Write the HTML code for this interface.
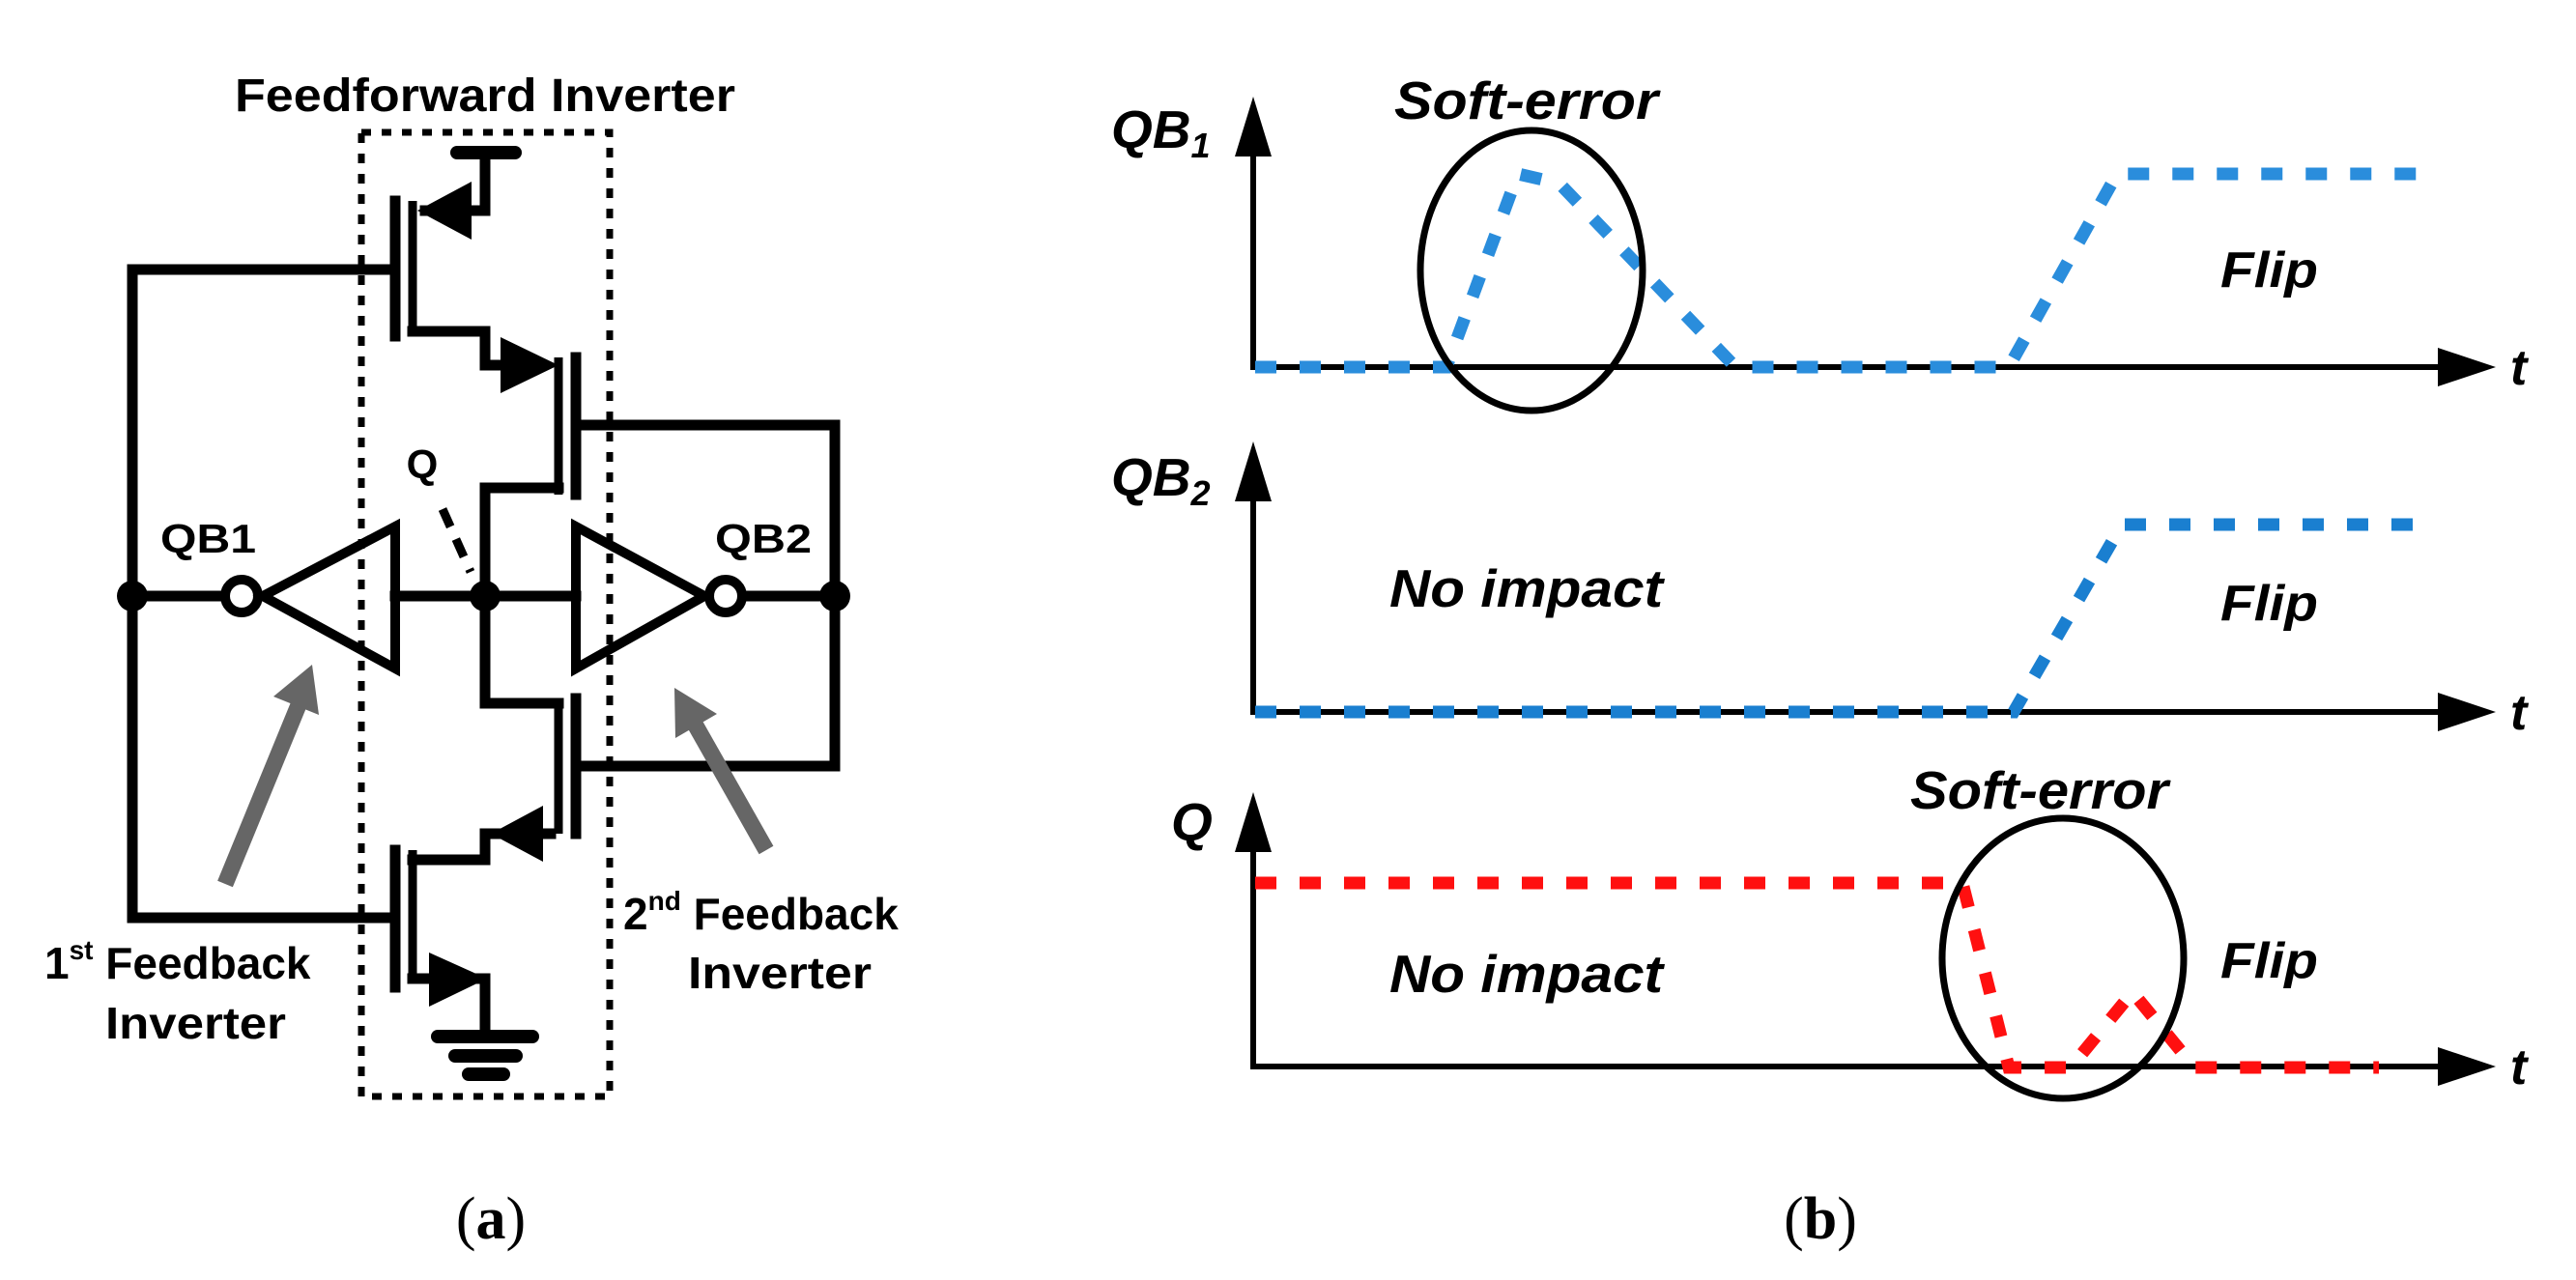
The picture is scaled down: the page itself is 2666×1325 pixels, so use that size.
<!DOCTYPE html>
<html><head><meta charset="utf-8"><style>
html,body{margin:0;padding:0;background:#fff;}
svg{display:block;}
</style></head><body>
<svg width="2666" height="1325" viewBox="0 0 2666 1325" xmlns="http://www.w3.org/2000/svg">
<rect width="2666" height="1325" fill="#fff"/>
<!-- ===== (a) circuit ===== -->
<g font-family="Liberation Sans, Arial, sans-serif" font-weight="bold" fill="#000">
<text x="243" y="115" font-size="48" textLength="518" lengthAdjust="spacingAndGlyphs">Feedforward Inverter</text>
</g>
<rect x="374" y="137" width="257" height="998" fill="none" stroke="#000" stroke-width="7" stroke-dasharray="10 11"/>
<g fill="none" stroke="#000" stroke-width="11" stroke-linejoin="miter" stroke-linecap="square">
  <path d="M137,279 V950"/>
  <path d="M137,279 H409"/>
  <path d="M137,950 H409"/>
  <path d="M409,208 V348"/>
  <path d="M409,880 V1022"/>
  <path d="M596,370 V512"/>
  <path d="M596,723 V863"/>
  <path d="M596,440 H864 V793 H596"/>
  <path d="M502,160 V218 H440"/>
  <path d="M427,343 H502 V378 H560"/>
  <path d="M578,505 H502 V728 H578"/>
  <path d="M570,863 H502 V890 H427"/>
  <path d="M427,1013 H495"/>
  <path d="M502,1013 V1073"/>
  <path d="M137,617 H232"/>
  <path d="M409,617 H596"/>
  <path d="M770,617 H864"/>
</g>
<g fill="none" stroke="#000" stroke-width="9">
  <path d="M427,208 V348"/>
  <path d="M578,370 V512"/>
  <path d="M578,723 V863"/>
  <path d="M427,880 V1017"/>
</g>
<g stroke="#000" stroke-linecap="round" stroke-width="14">
  <path d="M473,158 H533"/>
  <path d="M453,1073 H551"/>
  <path d="M471,1093 H534"/>
  <path d="M485,1112 H521"/>
</g>
<!-- transistor arrows -->
<g fill="#000">
  <polygon points="432,218 488,188 488,248"/>
  <polygon points="578,378 518,349 518,407"/>
  <polygon points="508,863 562,834 562,892"/>
  <polygon points="504,1013 444,986 444,1042"/>
</g>
<!-- inverters -->
<g fill="none" stroke="#000" stroke-width="10" stroke-linejoin="miter">
  <polygon points="272,617 409,545 409,692"/>
  <polygon points="596,545 596,692 729,617"/>
  <circle cx="250" cy="617" r="17"/>
  <circle cx="751" cy="617" r="17"/>
</g>
<g fill="#000">
  <circle cx="137" cy="617" r="16"/>
  <circle cx="502" cy="617" r="16"/>
  <circle cx="864" cy="617" r="16"/>
</g>
<path d="M458,527 L487,592" stroke="#000" stroke-width="9" stroke-dasharray="20 14" fill="none"/>
<!-- gray arrows -->
<g fill="#666" stroke="none">
  <path d="M233,915 L313,720" stroke="#666" stroke-width="17"/>
  <polygon points="323,688 330,740 283,721"/>
  <path d="M793,880 L712,737" stroke="#666" stroke-width="17"/>
  <polygon points="698,712 742,739 699,764"/>
</g>
<g font-family="Liberation Sans, Arial, sans-serif" font-weight="bold" fill="#000">
  <text x="437" y="495" font-size="42" text-anchor="middle">Q</text>
  <text x="166" y="572" font-size="42" textLength="99" lengthAdjust="spacingAndGlyphs">QB1</text>
  <text x="740" y="572" font-size="42" textLength="100" lengthAdjust="spacingAndGlyphs">QB2</text>
  <text x="46" y="1013" font-size="46">1<tspan font-size="28" dy="-20">st</tspan><tspan dy="20"> Feedback</tspan></text>
  <text x="109" y="1075" font-size="46" textLength="187" lengthAdjust="spacingAndGlyphs">Inverter</text>
  <text x="645" y="962" font-size="46">2<tspan font-size="28" dy="-20">nd</tspan><tspan dy="20"> Feedback</tspan></text>
  <text x="712" y="1023" font-size="46" textLength="190" lengthAdjust="spacingAndGlyphs">Inverter</text>
</g>
<text x="508" y="1282" font-family="Liberation Serif, serif" font-size="62" text-anchor="middle">(<tspan font-weight="bold">a</tspan>)</text>
<text x="1884" y="1282" font-family="Liberation Serif, serif" font-size="62" text-anchor="middle">(<tspan font-weight="bold">b</tspan>)</text>

<!-- ===== (b) waveforms ===== -->
<g fill="none" stroke="#000" stroke-width="6">
  <path d="M1297,150 V380 H2530"/>
  <path d="M1297,510 V737 H2530"/>
  <path d="M1297,875 V1104 H2530"/>
</g>
<g fill="#000">
  <polygon points="1297,100 1278,162 1316,162"/>
  <polygon points="2583,380 2523,360 2523,400"/>
  <polygon points="1297,457 1278,519 1316,519"/>
  <polygon points="2583,737 2523,717 2523,757"/>
  <polygon points="1297,820 1278,882 1316,882"/>
  <polygon points="2583,1104 2523,1084 2523,1124"/>
</g>
<g fill="none" stroke-width="13" stroke-dasharray="22 24">
  <path stroke="#2a8ddc" d="M1299,380 H1497 L1571,180 L1614,190 L1796,380 H2079 L2191,180 H2505"/>
  <path stroke="#1a7fd0" d="M1299,737 H2084 L2196,543 H2505"/>
  <path stroke="#ff1010" d="M1299,914 H2031 L2079,1105 H2143 L2207,1027 L2271,1105 H2462"/>
</g>
<g fill="none" stroke="#000" stroke-width="7">
  <ellipse cx="1585" cy="280" rx="115" ry="145"/>
  <ellipse cx="2135" cy="992" rx="125" ry="145"/>
</g>
<g font-family="Liberation Sans, Arial, sans-serif" font-weight="bold" font-style="italic" fill="#000">
  <text x="1150" y="153" font-size="55">QB<tspan font-size="36" dy="10">1</tspan></text>
  <text x="1150" y="513" font-size="55">QB<tspan font-size="36" dy="10">2</tspan></text>
  <text x="1212" y="870" font-size="55">Q</text>
  <text x="2598" y="398" font-size="52">t</text>
  <text x="2598" y="755" font-size="52">t</text>
  <text x="2598" y="1122" font-size="52">t</text>
  <text x="1443" y="123" font-size="55" textLength="273" lengthAdjust="spacingAndGlyphs">Soft-error</text>
  <text x="1977" y="837" font-size="55" textLength="267" lengthAdjust="spacingAndGlyphs">Soft-error</text>
  <text x="2298" y="297" font-size="52" textLength="101" lengthAdjust="spacingAndGlyphs">Flip</text>
  <text x="2298" y="642" font-size="52" textLength="101" lengthAdjust="spacingAndGlyphs">Flip</text>
  <text x="2298" y="1012" font-size="52" textLength="101" lengthAdjust="spacingAndGlyphs">Flip</text>
  <text x="1438" y="628" font-size="55" textLength="283" lengthAdjust="spacingAndGlyphs">No impact</text>
  <text x="1438" y="1027" font-size="55" textLength="283" lengthAdjust="spacingAndGlyphs">No impact</text>
</g>
</svg>
</body></html>
